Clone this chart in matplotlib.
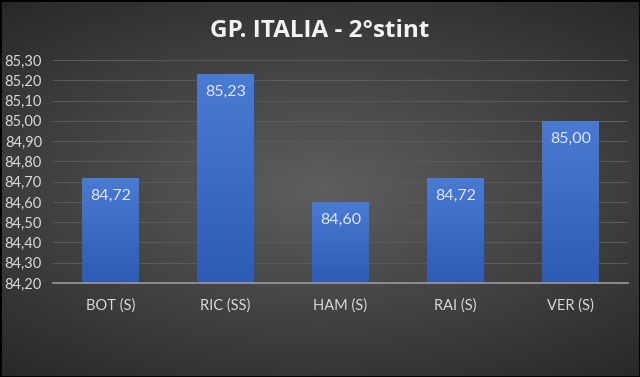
import numpy as np
import matplotlib.pyplot as plt
from matplotlib.colors import LinearSegmentedColormap

drivers = ['BOT (S)', 'RIC (SS)', 'HAM (S)', 'RAI (S)', 'VER (S)']
pace = [84.72, 85.23, 84.60, 84.72, 85.00]
y_ticks = [84.20, 84.30, 84.40, 84.50, 84.60, 84.70, 84.80, 84.90, 85.00, 85.10, 85.20, 85.30]

plt.rcParams['font.family'] = ['Lato', 'DejaVu Sans']

fig = plt.figure(figsize=(6.4, 3.77), dpi=100)

# radial gradient background
bg = fig.add_axes([0, 0, 1, 1], zorder=0)
yy, xx = np.mgrid[-1:1:200j, -1:1:340j]
r = np.sqrt((xx * 0.85) ** 2 + (yy * 1.0) ** 2)
bg.imshow(0.37 - 0.21 * np.clip(r, 0, 1.3) / 1.3, cmap='gray', vmin=0, vmax=1,
          aspect='auto', extent=[0, 1, 0, 1])
bg.set_axis_off()
fig.patches.append(plt.Rectangle((0, 0), 1, 1, transform=fig.transFigure,
                                 fill=False, ec='black', lw=2))

ax = fig.add_axes([53 / 640, 1 - 283 / 377, 575 / 640, 223 / 377], zorder=1)
ax.patch.set_alpha(0)

x = np.arange(len(drivers))
bars = ax.bar(x, np.array(pace) - y_ticks[0], bottom=y_ticks[0], width=0.49,
              color='none', zorder=3)

# vertical gradient for each bar
grad = np.linspace(0, 1, 100).reshape(-1, 1)
cmap = LinearSegmentedColormap.from_list('b', ['#2d5bb5', '#4a7bd3'])
for b, v in zip(bars, pace):
    x0 = b.get_x()
    im = ax.imshow(grad, cmap=cmap, aspect='auto', origin='lower',
                   extent=[x0, x0 + b.get_width(), y_ticks[0], v], zorder=3)
    im.set_clip_path(b)
    ax.text(x0 + b.get_width() / 2, v - 0.088, f'{v:.2f}'.replace('.', ','),
            ha='center', va='center', color='#dde4f5', fontsize=11.5, zorder=4)

ax.set_xlim(-0.5, len(drivers) - 0.5)
ax.set_ylim(y_ticks[0], y_ticks[-1])
ax.set_yticks(y_ticks)
ax.set_yticklabels([f'{t:.2f}'.replace('.', ',') for t in y_ticks])
ax.set_xticks(x)
ax.set_xticklabels(drivers)
ax.tick_params(colors='#d9d9d9', labelsize=10.5, length=0)
ax.tick_params(axis='y', pad=8)
ax.tick_params(axis='x', pad=11)
ax.grid(axis='y', color='#5a5a5a', lw=0.8, zorder=1)
for s in ['top', 'right', 'left']:
    ax.spines[s].set_visible(False)
ax.spines['bottom'].set_color('#9a9a9a')
ax.spines['bottom'].set_linewidth(1.2)
ax.spines['bottom'].set_zorder(5)

fig.text(0.5, 1 - 31 / 377, 'GP. ITALIA - 2°stint', ha='center', va='center',
         color='#f2f2f2', fontsize=17.5, fontweight='bold',
         family=['Open Sans', 'DejaVu Sans'])

fig.savefig('out.png', dpi=100)
